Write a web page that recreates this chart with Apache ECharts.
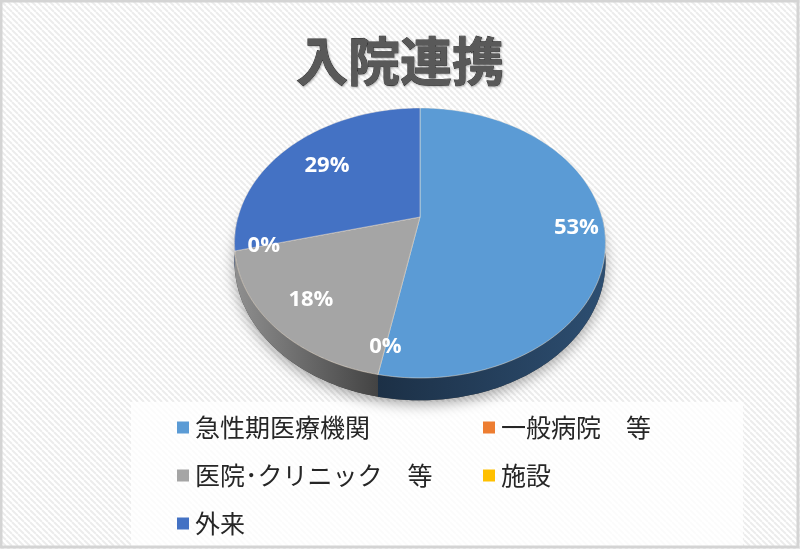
<!DOCTYPE html>
<html>
<head>
<meta charset="utf-8">
<title>入院連携</title>
<script src="https://cdn.jsdelivr.net/npm/echarts@6/dist/echarts.min.js"></script>
<style>
  html, body { margin: 0; padding: 0; background: #fff; }
  #main { width: 800px; height: 549px; }
</style>
</head>
<body>
<div id="main"></div>
<script>
// data
var categories = ['急性期医療機関', '一般病院　等', '医院･クリニック　等', '施設', '外来'];
var shares = [53, 0, 18, 0, 29];

// styles
var colors = ['#5B9BD5', '#ED7D31', '#A5A5A5', '#FFC000', '#4472C4'];
var wallColors = [
  ['#1c3046', '#2d4e71'],
  ['#8a4418', '#b35d22'],
  ['#8f8f8f', '#434343'],
  ['#a07800', '#c89600'],
  ['#2a4a8a', '#34579a']
];
var labelRadius = [0.85, 0.85, 0.78, 0.85, 0.7];

// 3d pie geometry (perspective tilt like the office chart)
var CX = 420, CY = 217, RX = 182, RY = 130, PERSP = 0.1926, DEPTH = 18;

var total = shares.reduce(function (a, b) { return a + b; }, 0);
var starts = [];
var acc = 0;
for (var i = 0; i < shares.length; i++) {
  starts.push(acc);
  acc += shares[i];
}

function proj(deg, f, down) {
  var r = deg * Math.PI / 180;
  var s = Math.sin(r), c = Math.cos(r);
  var w = 1 / (1 + PERSP * f * c);
  return [CX + RX * f * s * w, CY - RY * f * c * w + (down ? DEPTH * w : 0)];
}

function arc(a0, a1, down) {
  var pts = [];
  for (var a = a0; a < a1; a += 1) pts.push(proj(a, 1, down));
  pts.push(proj(a1, 1, down));
  return pts;
}

function makeRender(idx) {
  return function (params, api) {
    var a0 = starts[idx] / total * 360;
    var a1 = (starts[idx] + shares[idx]) / total * 360;
    var children = [];

    if (idx === 0) {
      // soft shadow under the whole disc
      children.push({
        type: 'polygon',
        z2: 0,
        shape: { points: arc(0, 360, true) },
        style: {
          fill: '#3a3a3a',
          shadowBlur: 14,
          shadowOffsetY: 4,
          shadowColor: 'rgba(0,0,0,0.35)'
        }
      });
    }

    if (a1 > a0) {
      var w0 = Math.max(a0, 90), w1 = Math.min(a1, 270);
      if (w1 > w0) {
        var topEdge = arc(w0, w1, false);
        var botEdge = arc(w0, w1, true).reverse();
        children.push({
          type: 'polygon',
          z2: 1,
          shape: { points: topEdge.concat(botEdge) },
          style: {
            fill: new echarts.graphic.LinearGradient(0, 0, 1, 0, [
              { offset: 0, color: wallColors[idx][0] },
              { offset: 1, color: wallColors[idx][1] }
            ])
          }
        });
      }
      children.push({
        type: 'polygon',
        z2: 5,
        shape: { points: [proj(0, 0, false)].concat(arc(a0, a1, false)) },
        style: {
          fill: colors[idx],
          stroke: 'rgba(255,240,220,0.45)',
          lineWidth: 1
        }
      });
    }

    var mid = (a0 + a1) / 2;
    var lp = proj(mid, labelRadius[idx], false);
    children.push({
      type: 'text',
      z2: 10,
      x: lp[0],
      y: lp[1],
      style: {
        text: Math.round(shares[idx] / total * 100) + '%',
        fill: '#fff',
        font: 'bold 22px "Open Sans", "Noto Sans", sans-serif',
        align: 'center',
        verticalAlign: 'middle'
      }
    });

    return { type: 'group', children: children };
  };
}

// striped background tile
var tile = document.createElement('canvas');
tile.width = 6;
tile.height = 6;
var tctx = tile.getContext('2d');
tctx.fillStyle = '#ffffff';
tctx.fillRect(0, 0, 6, 6);
tctx.strokeStyle = '#ececec';
tctx.lineWidth = 2;
[-6, 0, 6].forEach(function (k) {
  tctx.beginPath();
  tctx.moveTo(k, 0);
  tctx.lineTo(k + 6, 6);
  tctx.stroke();
});

var series = categories.map(function (name, idx) {
  return {
    type: 'custom',
    name: name,
    coordinateSystem: 'none',
    renderItem: makeRender(idx),
    itemStyle: { color: colors[idx] },
    data: [[shares[idx]]],
    silent: true
  };
});

var legendText = {
  fontSize: 25,
  color: '#262626',
  fontFamily: '"Noto Sans CJK JP", sans-serif',
  padding: [0, 0, 0, 1]
};

var chart = echarts.init(document.getElementById('main'));
var option = {
  animation: false,
  title: {
    text: '入院連携',
    left: 'center',
    top: 30,
    textStyle: {
      fontSize: 52,
      fontWeight: 'bold',
      fontFamily: '"Noto Sans CJK JP", sans-serif',
      color: '#595959',
      textBorderColor: '#303030',
      textBorderWidth: 0.8,
      textShadowColor: 'rgba(0,0,0,0.25)',
      textShadowBlur: 2,
      textShadowOffsetX: 1,
      textShadowOffsetY: 1
    }
  },
  legend: [{
    orient: 'vertical',
    left: 172,
    top: 410,
    itemWidth: 12,
    itemHeight: 12,
    itemGap: 23,
    icon: 'rect',
    selectedMode: false,
    textStyle: legendText,
    data: [categories[0], categories[2], categories[4]]
  }, {
    orient: 'vertical',
    left: 478,
    top: 410,
    itemWidth: 12,
    itemHeight: 12,
    itemGap: 23,
    icon: 'rect',
    selectedMode: false,
    textStyle: legendText,
    data: [categories[1], categories[3]]
  }],
  graphic: [{
    type: 'rect',
    z: -10,
    silent: true,
    shape: { x: 0, y: 0, width: 800, height: 549 },
    style: { fill: { image: tile, repeat: 'repeat' } }
  }, {
    type: 'rect',
    z: -9,
    silent: true,
    shape: { x: 131, y: 402, width: 612, height: 145 },
    style: { fill: 'rgba(255,255,255,0.8)' }
  }, {
    type: 'rect',
    z: 100,
    silent: true,
    shape: { x: 1, y: 1, width: 797, height: 546 },
    style: { fill: 'none', stroke: '#d4d4d4', lineWidth: 3 }
  }],
  series: series
};
chart.setOption(option);
</script>
</body>
</html>
